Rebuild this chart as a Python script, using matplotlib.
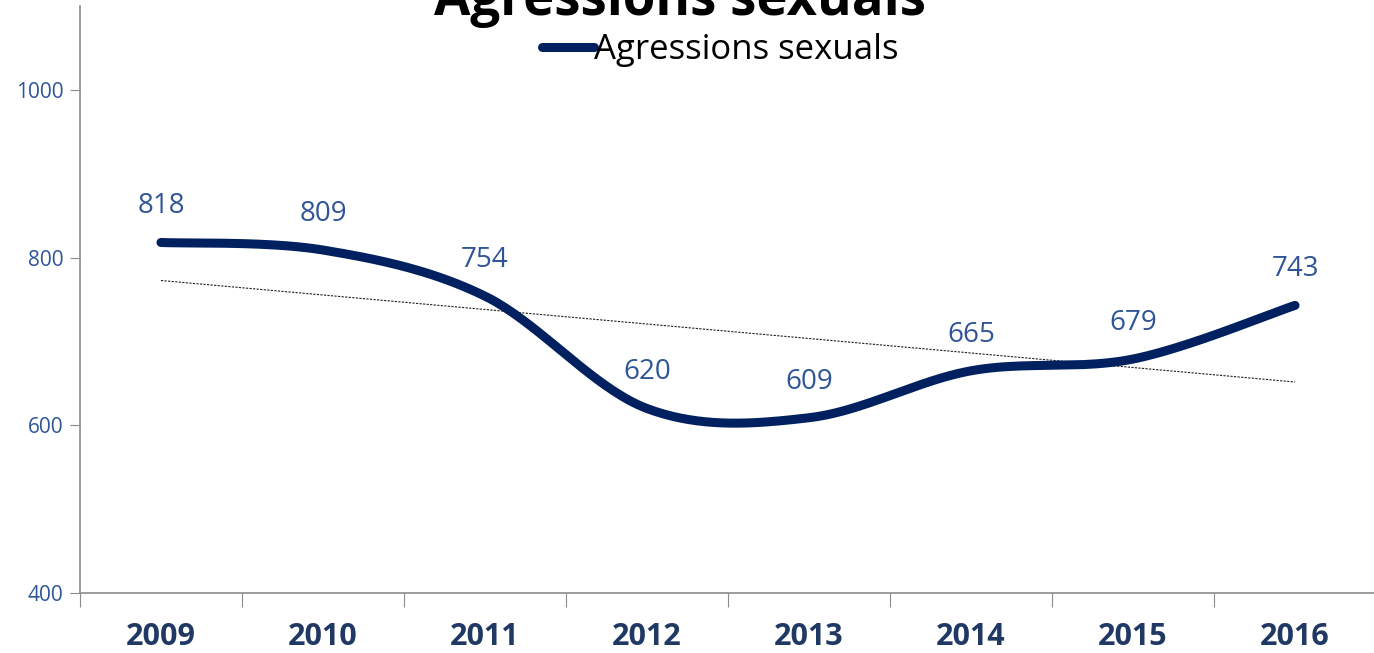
#!/usr/bin/env python3
"""Smoothed line chart of yearly sexual assault counts with a linear trendline."""

import matplotlib

matplotlib.use("Agg")
import matplotlib.pyplot as plt
import numpy as np

years = ["2009", "2010", "2011", "2012", "2013", "2014", "2015", "2016"]
values = [818, 809, 754, 620, 609, 665, 679, 743]
y_ticks = [400, 600, 800, 1000]

LINE_COLOR = "#002060"
LABEL_COLOR = "#2F5597"
YEAR_COLOR = "#1F3864"
AXIS_COLOR = "#8C8C8C"


def smooth_curve(x, y, steps=40):
    # Excel-style smoothing: cubic Bezier segments, control points from neighbours / 6
    pts = np.column_stack([x, y]).astype(float)
    padded = np.vstack([pts[0], pts, pts[-1]])
    out = []
    t = np.linspace(0, 1, steps)[:, None]
    for i in range(len(pts) - 1):
        p0, p3 = padded[i + 1], padded[i + 2]
        p1 = p0 + (padded[i + 2] - padded[i]) / 6
        p2 = p3 - (padded[i + 3] - padded[i + 1]) / 6
        seg = ((1 - t) ** 3) * p0 + 3 * ((1 - t) ** 2) * t * p1 + 3 * (1 - t) * t**2 * p2 + t**3 * p3
        out.append(seg if i == 0 else seg[1:])
    curve = np.vstack(out)
    return curve[:, 0], curve[:, 1]


def main():
    plt.rcParams["font.family"] = ["Open Sans", "DejaVu Sans"]
    fig = plt.figure(figsize=(13.74, 6.53), dpi=100)
    ax = fig.add_axes([0.0582, 0.0919, 0.9433, 0.8989])

    x = np.arange(len(years))
    cx, cy = smooth_curve(x, values)
    ax.plot(cx, cy, color=LINE_COLOR, lw=6.5, solid_capstyle="round",
            label="Agressions sexuals", zorder=3)

    slope, intercept = np.polyfit(x, values, 1)
    ax.plot(x, slope * x + intercept, color="#202020", lw=0.8,
            dashes=(2, 1.2), zorder=2)

    for xi, v in zip(x, values):
        ax.annotate(str(v), (xi, v), xytext=(0, 26), textcoords="offset points",
                    ha="center", va="center", fontsize=20, color=LABEL_COLOR)

    ax.set_xlim(-0.5, len(years) - 0.5)
    ax.set_ylim(400, 1100)
    ax.set_yticks(y_ticks)
    ax.set_yticklabels([str(t) for t in y_ticks], color=LABEL_COLOR, fontsize=15)
    ax.tick_params(axis="y", length=7, color=AXIS_COLOR, pad=5)

    ax.set_xticks(np.arange(len(years) + 1) - 0.5)
    ax.set_xticklabels([])
    ax.set_xticks(x, minor=True)
    ax.set_xticklabels(years, minor=True, fontsize=22, fontweight="bold",
                       color=YEAR_COLOR)
    ax.tick_params(axis="x", which="major", length=10, color=AXIS_COLOR)
    ax.tick_params(axis="x", which="minor", length=0, pad=21)

    for side in ("top", "right"):
        ax.spines[side].set_visible(False)
    for side in ("left", "bottom"):
        ax.spines[side].set_color(AXIS_COLOR)
        ax.spines[side].set_linewidth(1.2)

    # title sits partly above the canvas, as in the source image
    fig.text(0.495, 0.977, "Agressions sexuals", ha="center", va="baseline",
             fontsize=38, fontweight="bold", color="black")

    ax.legend(loc="center", bbox_to_anchor=(0.494, 0.925), frameon=False,
              fontsize=25, handlelength=1.5, handletextpad=0.0)

    fig.savefig("out.png", dpi=100)
    plt.close(fig)


if __name__ == "__main__":
    main()
